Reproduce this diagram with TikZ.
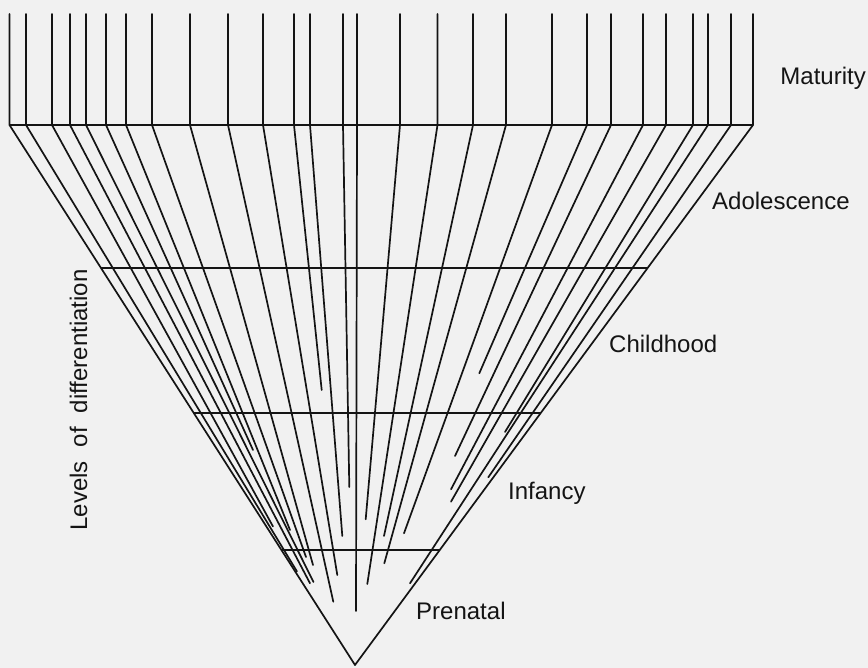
\documentclass[tikz,border=0pt]{standalone}
\usepackage{fontspec}
\setmainfont{Liberation Sans}
\definecolor{bg}{RGB}{241,241,241}
\definecolor{ink}{RGB}{20,20,20}
\tikzset{
  ray/.style={draw=ink, line width=1.7pt, line cap=round},
  level/.style={draw=ink, line width=1.3pt},
  lbl/.style={text=ink, inner sep=0pt, font=\fontsize{24}{24}\selectfont},
}
\begin{document}
\begin{tikzpicture}[x=1pt,y=-1pt]
\fill[bg] (0,0) rectangle (868,668);
\useasboundingbox (0,0) rectangle (868,668);
% apex
\coordinate (apex) at (355,665);
% top points on the maturity line (y=125) and their upper ends (y=14)
\foreach \i/\x in {1/9.5,2/26,3/52,4/70,5/86,6/106,7/126,8/152,9/190,10/228,11/263,12/294,13/310,14/343,15/357,16/400,17/437.5,18/473,19/506,20/552,21/587,22/611,23/643,24/666,25/693,26/708,27/731,28/753}{
  \coordinate (t\i) at (\x,125);
  \coordinate (u\i) at (\x,14);
}
% end points of the rays
\coordinate (e1) at (apex);
\coordinate (e2) at (297,571.5);
\coordinate (e3) at (273,526.5);
\coordinate (e4) at (310,583.3);
\coordinate (e5) at (313.5,582);
\coordinate (e6) at (253,450);
\coordinate (e7) at (290,530);
\coordinate (e8) at (306,557);
\coordinate (e9) at (313,565);
\coordinate (e10) at (333.3,601.7);
\coordinate (e11) at (337.3,575);
\coordinate (e12) at (321.7,390);
\coordinate (e13) at (342.3,536);
\coordinate (e14) at (349.3,487);
\coordinate (e15) at (356,611);
\coordinate (e16) at (365.7,519.3);
\coordinate (e17) at (367.3,584);
\coordinate (e18) at (384,536);
\coordinate (e19) at (384.3,563.3);
\coordinate (e20) at (404,533.3);
\coordinate (e21) at (479.3,373.3);
\coordinate (e22) at (455,456);
\coordinate (e23) at (451,489.3);
\coordinate (e24) at (451,501.7);
\coordinate (e25) at (505,432);
\coordinate (e26) at (410,583.3);
\coordinate (e27) at (488.3,477.3);
\coordinate (e28) at (apex);
% verticals and rays
\foreach \i in {1,...,28}{
  \draw[ray] (u\i) -- (t\i) -- (e\i);
}
% level lines
\draw[level] (t1) -- (t28);
\coordinate (l1) at (101,268);  \coordinate (r1) at (647.6,268);
\coordinate (l2) at (193.8,413); \coordinate (r2) at (540.7,413);
\coordinate (l3) at (281.4,550); \coordinate (r3) at (439.8,550);
\draw[level] (l1) -- (r1);
\draw[level] (l2) -- (r2);
\draw[level] (l3) -- (r3);
% labels
\node[lbl, anchor=base east] (mat) at (866,85) {Maturity};
\node[lbl, anchor=base west] (ado) at (712,210) {Adolescence};
\node[lbl, anchor=base west] (chi) at (609,353) {Childhood};
\node[lbl, anchor=base west] (inf) at (508,499) {Infancy};
\node[lbl, anchor=base west] (pre) at (416,619) {Prenatal};
\node[lbl, rotate=90, anchor=base] (lev) at (87,400) {Levels\hspace{14pt}of\hspace{14pt}differentiation};
\end{tikzpicture}
\end{document}
